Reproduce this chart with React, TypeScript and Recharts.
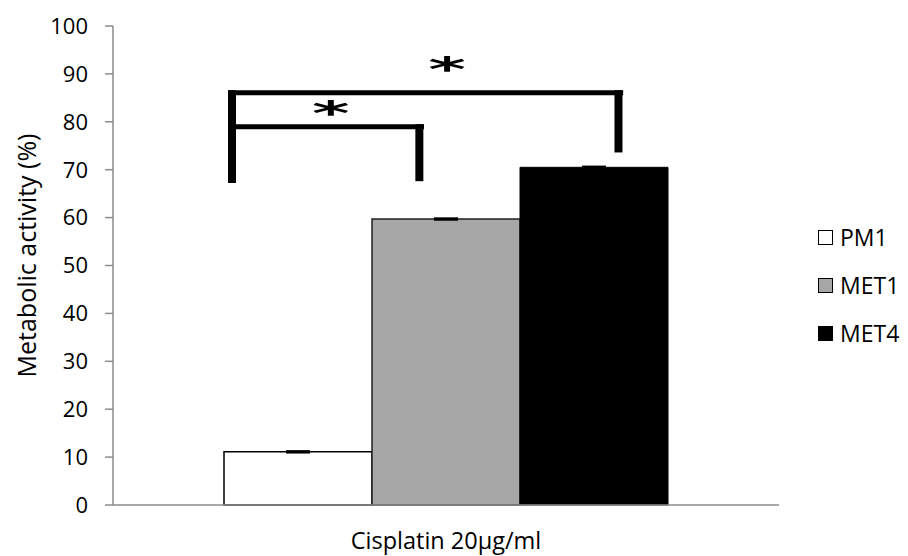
import React from "react";
import {
  BarChart,
  Bar,
  XAxis,
  YAxis,
  Legend,
  ErrorBar,
  ReferenceLine,
  ReferenceDot,
} from "recharts";

// ---- data ----
const categories = ["Cisplatin 20µg/ml"];
const seriesNames = ["PM1", "MET1", "MET4"];
const pm1Values = [11.1];
const met1Values = [59.7];
const met4Values = [70.5];
const pm1Errors = [0.15];
const met1Errors = [0.15];
const met4Errors = [0.15];
const yTicks = [0, 10, 20, 30, 40, 50, 60, 70, 80, 90, 100];

// significance brackets (x as fraction of plot width, y in data units)
const bracketVerticals = [
  { x: 0.1787, y1: 86.6, y2: 67.2 },
  { x: 0.46, y1: 79.5, y2: 67.6 },
  { x: 0.759, y1: 86.6, y2: 73.6 },
];
const bracketHorizontals = [
  { x1: 0.1727, x2: 0.467, y: 78.97 },
  { x1: 0.1727, x2: 0.766, y: 86.06 },
];
const stars = [
  { x: 0.327, y: 83.2 },
  { x: 0.5015, y: 92.4 },
];

const data = categories.map((c, i) => ({
  name: c,
  pos: 0.5,
  pm1: pm1Values[i],
  met1: met1Values[i],
  met4: met4Values[i],
  pm1Err: pm1Errors[i],
  met1Err: met1Errors[i],
  met4Err: met4Errors[i],
}));

const FONT = "'Open Sans', sans-serif";

const renderLegend = (props: any) => {
  const payload = [...(props.payload || [])].sort(
    (a: any, b: any) => seriesNames.indexOf(a.value) - seriesNames.indexOf(b.value)
  );
  return (
    <div style={{ fontFamily: FONT }}>
      {payload.map((entry: any) => (
        <div
          key={entry.value}
          style={{
            display: "flex",
            alignItems: "center",
            height: 48,
            fontSize: 23,
            color: "#000",
          }}
        >
          <span
            style={{
              display: "inline-block",
              width: 13,
              height: 13,
              border: "1.5px solid #000",
              background: entry.color,
              marginRight: 7,
            }}
          />
          <span>{entry.value}</span>
        </div>
      ))}
    </div>
  );
};

const renderYLabel = (props: any) => {
  const vb = props.viewBox || { x: 0, y: 0, width: 0, height: 0 };
  const x = vb.x + 36;
  const y = vb.y + vb.height / 2 - 10;
  return (
    <text
      x={x}
      y={y}
      transform={`rotate(-90, ${x}, ${y})`}
      textAnchor="middle"
      fontFamily={FONT}
      fontSize={25}
      fill="#000"
    >
      Metabolic activity (%)
    </text>
  );
};

const starShape = (p: any) => (
  <g transform={`translate(${p.cx}, ${p.cy}) scale(1.8, 0.85)`}>
    <text
      x={0}
      y={22}
      textAnchor="middle"
      fontFamily="'DejaVu Sans', sans-serif"
      fontWeight="bold"
      fontSize={40}
      fill="#000"
    >
      *
    </text>
  </g>
);

export default function App() {
  return (
    <div style={{ position: "absolute", left: 0, top: 0, background: "#fff" }}>
      <BarChart
        width={908}
        height={556}
        data={data}
        margin={{ top: 26, right: 129, bottom: 0, left: 0 }}
        barCategoryGap="16.667%"
        barGap={0}
      >
        <XAxis
          dataKey="name"
          type="category"
          stroke="#8c8c8c"
          strokeWidth={1.5}
          tickLine={false}
          tickSize={6}
          tickMargin={21}
          height={51}
          tick={{ fill: "#000", fontSize: 23.5, fontFamily: FONT }}
        />
        <XAxis xAxisId="num" type="number" dataKey="pos" domain={[0, 1]} hide allowDataOverflow />
        <YAxis
          domain={[0, 100]}
          ticks={yTicks}
          interval={0}
          width={113}
          stroke="#8c8c8c"
          strokeWidth={1.5}
          tickSize={8}
          tickMargin={17}
          tick={{ fill: "#000", fontSize: 22, fontFamily: FONT }}
          label={renderYLabel}
        />
        <Legend
          layout="vertical"
          align="center"
          verticalAlign="middle"
          content={renderLegend}
          wrapperStyle={{ left: 818, top: 213, width: 90 }}
        />
        <Bar dataKey="pm1" name="PM1" fill="#ffffff" stroke="#000" strokeWidth={1.5} isAnimationActive={false}>
          <ErrorBar dataKey="pm1Err" width={12} stroke="#000" strokeWidth={2} />
        </Bar>
        <Bar dataKey="met1" name="MET1" fill="#a6a6a6" stroke="#222" strokeWidth={1.5} isAnimationActive={false}>
          <ErrorBar dataKey="met1Err" width={12} stroke="#000" strokeWidth={2} />
        </Bar>
        <Bar dataKey="met4" name="MET4" fill="#000000" stroke="#000" strokeWidth={1} isAnimationActive={false}>
          <ErrorBar dataKey="met4Err" width={12} stroke="#000" strokeWidth={2} />
        </Bar>
        {bracketVerticals.map((b, i) => (
          <ReferenceLine
            key={"v" + i}
            xAxisId="num"
            ifOverflow="visible"
            segment={[
              { x: b.x, y: b.y1 },
              { x: b.x, y: b.y2 },
            ]}
            stroke="#000"
            strokeWidth={8}
          />
        ))}
        {bracketHorizontals.map((b, i) => (
          <ReferenceLine
            key={"h" + i}
            xAxisId="num"
            ifOverflow="visible"
            segment={[
              { x: b.x1, y: b.y },
              { x: b.x2, y: b.y },
            ]}
            stroke="#000"
            strokeWidth={5}
          />
        ))}
        {stars.map((s, i) => (
          <ReferenceDot
            key={"s" + i}
            xAxisId="num"
            x={s.x}
            y={s.y}
            r={0}
            ifOverflow="visible"
            shape={starShape}
          />
        ))}
      </BarChart>
    </div>
  );
}
